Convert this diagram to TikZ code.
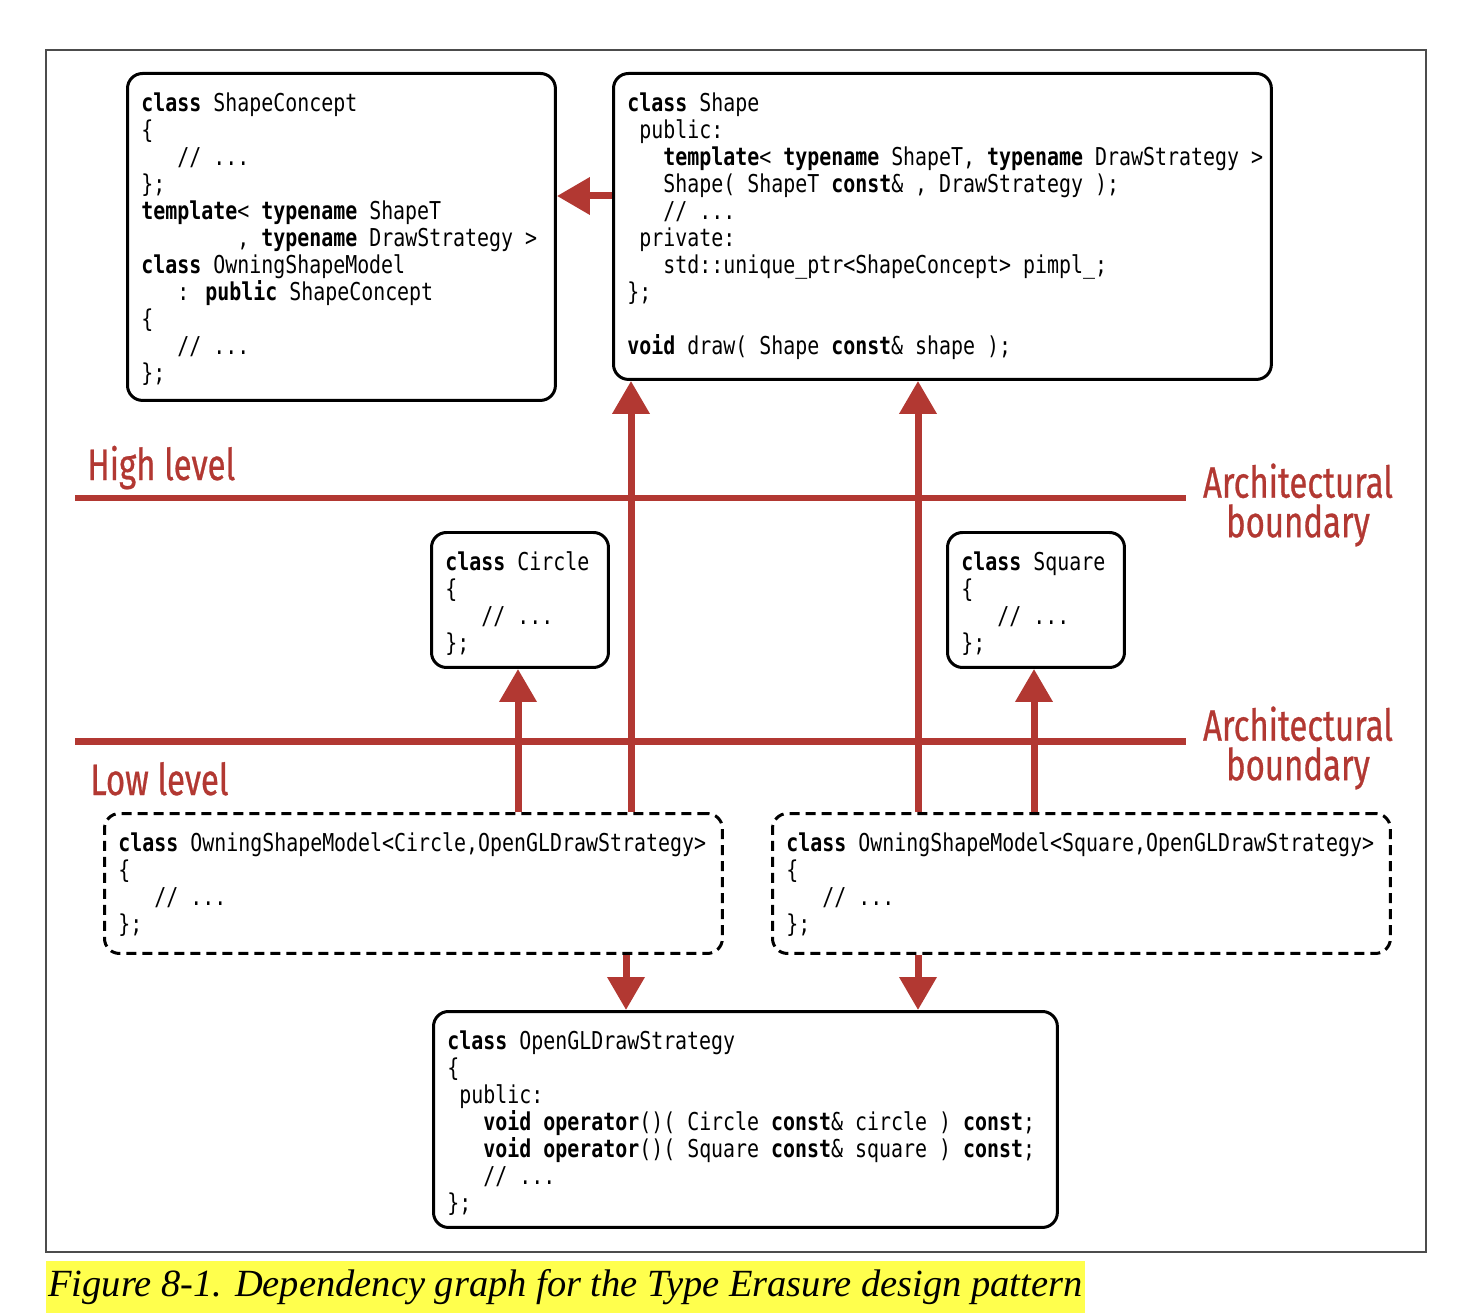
\documentclass[tikz,border=0pt]{standalone}
\usepackage{fontspec}
\usepackage{xcolor}
\usepackage{tikz}
\newfontfamily\codefont[FakeStretch=0.81]{DejaVu Sans Mono}
\newfontfamily\lvlfont[FakeStretch=0.75, FakeBold=0.6]{Fira Sans}
\newfontfamily\capfont{Liberation Serif}
\definecolor{archred}{RGB}{178, 56, 50}
\definecolor{hilite}{RGB}{255, 255, 77}
\usetikzlibrary{arrows.meta, positioning}
\newlength{\cw}\setlength{\cw}{0.24cm}
\newcommand{\ind}[1]{\hspace*{#1\cw}}
\newcommand{\kw}[1]{\textbf{#1}}

\begin{document}
\begin{tikzpicture}[
    x=0.02cm, y=-0.02cm,
    codebox/.style={draw, line width=0.06cm, rounded corners=0.3cm, anchor=north west, inner sep=0pt},
    modelbox/.style={codebox, dash pattern=on 0.2cm off 0.12cm},
    codetext/.style={anchor=north west, align=left, inner sep=0pt, xshift=0.3cm, yshift=-0.4cm, font={\codefont\fontsize{14}{15.37}\selectfont}},
    dep/.style={draw=archred, line width=0.14cm, -{Triangle[width=0.72cm, length=0.66cm]}},
    boundary/.style={draw=archred, line width=0.14cm},
    lvl/.style={text=archred, inner sep=0pt, font={\lvlfont\fontsize{25}{22.5}\selectfont}}
]
    \useasboundingbox (0,0) rectangle (1478,1314);
    \draw[gray!60!black, line width=0.03cm] (46,50) rectangle (1426,1252);

    % High level
    \node[codebox, minimum width=8.56cm, minimum height=6.54cm,
          label={[codetext]north west:{\kw{class} ShapeConcept\\ \{\\ \ind{3}// ...\\ \};\\
          \kw{template}< \kw{typename} ShapeT\\ \ind{8}, \kw{typename} DrawStrategy >\\
          \kw{class} OwningShapeModel\\ \ind{3}: \kw{public} ShapeConcept\\ \{\\ \ind{3}// ...\\ \};}}] (concept) at (126,72) {};
    \node[codebox, minimum width=13.16cm, minimum height=6.12cm,
          label={[codetext]north west:{\kw{class} Shape\\ \ind{1}public:\\
          \ind{3}\kw{template}< \kw{typename} ShapeT, \kw{typename} DrawStrategy >\\
          \ind{3}Shape( ShapeT \kw{const}\& , DrawStrategy );\\ \ind{3}// ...\\ \ind{1}private:\\
          \ind{3}std::unique\_ptr<ShapeConcept> pimpl\_;\\ \};\\[15.37pt]
          \kw{void} draw( Shape \kw{const}\& shape );}}] (shape) at (612,72) {};
    \node[codebox, minimum width=3.54cm, minimum height=2.7cm,
          label={[codetext]north west:{\kw{class} Circle\\ \{\\ \ind{3}// ...\\ \};}}] (circle) at (430,531) {};
    \node[codebox, minimum width=3.54cm, minimum height=2.7cm,
          label={[codetext]north west:{\kw{class} Square\\ \{\\ \ind{3}// ...\\ \};}}] (square) at (946,531) {};

    % Low level
    \node[modelbox, minimum width=12.36cm, minimum height=2.8cm,
          label={[codetext]north west:{\kw{class} OwningShapeModel<Circle,OpenGLDrawStrategy>\\ \{\\ \ind{3}// ...\\ \};}}] (cmodel) at (103,812) {};
    \node[modelbox, minimum width=12.36cm, minimum height=2.8cm,
          label={[codetext]north west:{\kw{class} OwningShapeModel<Square,OpenGLDrawStrategy>\\ \{\\ \ind{3}// ...\\ \};}}] (smodel) at (771,812) {};
    \node[codebox, minimum width=12.48cm, minimum height=4.32cm,
          label={[codetext]north west:{\kw{class} OpenGLDrawStrategy\\ \{\\ \ind{1}public:\\
          \ind{3}\kw{void} \kw{operator}()( Circle \kw{const}\& circle ) \kw{const};\\
          \ind{3}\kw{void} \kw{operator}()( Square \kw{const}\& square ) \kw{const};\\
          \ind{3}// ...\\ \};}}] (strategy) at (432,1010) {};

    % Boundaries
    \node[lvl, anchor=base west] (high) at (87,480) {High level};
    \node[lvl, anchor=base west] (low) at (90,795) {Low level};
    \node[lvl, align=center] (btop) at (1298,505) {Architectural\\boundary};
    \node[lvl, align=center] (bbot) at (1298,748) {Architectural\\boundary};
    \coordinate (htop) at (75,498);
    \coordinate (hbot) at (75,741);
    \draw[boundary] (htop) -- (htop -| 1186,0);
    \draw[boundary] (hbot) -- (hbot -| 1186,0);

    % Dependencies
    \coordinate (lnA) at (631,0);
    \coordinate (lnB) at (918,0);
    \coordinate (lnC) at (518,0);
    \coordinate (lnD) at (1034,0);
    \coordinate (lnE) at (626,0);
    \coordinate (own) at (0,196);
    \draw[dep] (shape.west |- own) -- (concept.east |- own);
    \draw[dep] (cmodel.north -| lnA) -- (shape.south -| lnA);
    \draw[dep] (smodel.north -| lnB) -- (shape.south -| lnB);
    \draw[dep] (cmodel.north -| lnC) -- (circle.south -| lnC);
    \draw[dep] (smodel.north -| lnD) -- (square.south -| lnD);
    \draw[dep] (cmodel.south -| lnE) -- (strategy.north -| lnE);
    \draw[dep] (smodel.south -| lnB) -- (strategy.north -| lnB);

    % Caption
    \node[fill=hilite, minimum width=20.78cm, minimum height=1.04cm, inner sep=0pt,
          font={\capfont\itshape\fontsize{21.9}{26}\selectfont}] (caption) at (565.5,1287)
          {Figure 8-1. Dependency graph for the Type Erasure design pattern};
\end{tikzpicture}
\end{document}
